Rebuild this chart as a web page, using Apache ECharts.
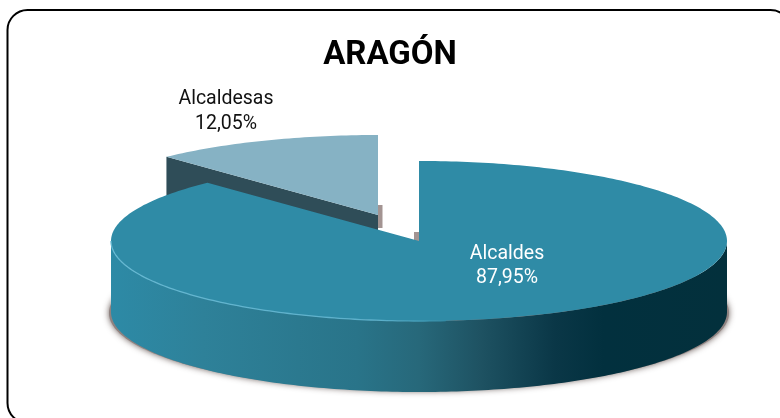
<!DOCTYPE html>
<html>
<head>
<meta charset="utf-8">
<style>
html, body { margin: 0; padding: 0; background: #fff; }
#main { width: 780px; height: 418px; }
</style>
<script src="https://cdn.jsdelivr.net/npm/echarts@6/dist/echarts.min.js"></script>
</head>
<body>
<div id="main"></div>
<script>
// datos
var titleText = 'ARAGÓN';
var categories = ['Alcaldesas', 'Alcaldes'];
var values = [12.05, 87.95];

// geometria del pastel
var centerX = 419, centerY = 241, radiusX = 308, radiusY = 80, depth = 71;
var offsets = [[-41, -26], [0, 0]];
var labelPos = [[226, 111.5], [507, 266]];
var labelColors = ['#111', '#fff'];
var topColors = ['#86b2c4', '#2f8ba6'];
var cutColor = '#2f4d58';
var fontName = 'Roboto, sans-serif';

var total = values[0] + values[1];
var chart = echarts.init(document.querySelector('#main'));

// punto del borde, angulo en grados desde arriba y en sentido horario
function rimPoint(cx, cy, deg, rx, ry) {
    var t = deg * Math.PI / 180;
    return [cx + (rx || radiusX) * Math.sin(t), cy - (ry || radiusY) * Math.cos(t)];
}
function arc(cx, cy, from, to, rx, ry) {
    var pts = [];
    var n = Math.ceil(Math.abs(to - from));
    for (var i = 0; i <= n; i++) {
        pts.push(rimPoint(cx, cy, from + (to - from) * i / n, rx, ry));
    }
    return pts;
}
function shifted(pts, dy) {
    return pts.map(function (p) { return [p[0], p[1] + dy]; }).reverse();
}

function renderSlice(params, api) {
    var i = params.dataIndex;
    var cx = centerX + offsets[i][0];
    var cy = centerY + offsets[i][1];
    var sweep = api.value(0) / total * 360;
    // Alcaldesas termina en la vertical, Alcaldes empieza ahi
    var from = i === 0 ? -sweep : 0;
    var to = i === 0 ? 0 : sweep;
    var children = [];

    if (i === 0) {
        var first = rimPoint(cx, cy, from);
        children.push({
            type: 'polygon',
            shape: { points: [first, [cx, cy], [cx, cy + depth], [first[0], first[1] + depth]] },
            style: { fill: cutColor }
        });
        children.push({
            type: 'rect',
            shape: { x: cx, y: cy - 10, width: 4.5, height: 23 },
            style: { fill: '#a39492' }
        });
    } else {
        // sombra bajo el pastel
        var shadowArc = arc(cx, cy + 72, 60, 300, radiusX + 2, radiusY - 2);
        children.push({
            type: 'polygon',
            shape: { points: shadowArc },
            style: { fill: '#8f8280', shadowBlur: 6, shadowColor: 'rgba(90,75,72,.9)' }
        });
        children.push({
            type: 'rect',
            shape: { x: cx - 5, y: cy - 9, width: 5, height: 9 },
            style: { fill: '#a39492' }
        });
        // pared frontal
        var front = arc(cx, cy, 90, 270);
        children.push({
            type: 'polygon',
            shape: { points: front.concat(shifted(front, depth)) },
            style: {
                fill: new echarts.graphic.LinearGradient(0, 0, 1, 0, [
                    { offset: 0, color: '#2d8aa6' },
                    { offset: 0.15, color: '#2e8199' },
                    { offset: 0.4, color: '#297489' },
                    { offset: 0.5, color: '#27687a' },
                    { offset: 0.6, color: '#1e5262' },
                    { offset: 0.72, color: '#0a3747' },
                    { offset: 0.8, color: '#02303e' },
                    { offset: 1, color: '#03303c' }
                ])
            }
        });
    }

    children.push({
        type: 'polygon',
        shape: { points: [[cx, cy]].concat(arc(cx, cy, from, to)) },
        style: { fill: topColors[i] }
    });

    if (i === 1) {
        // brillo del canto
        children.push({
            type: 'polyline',
            shape: { points: arc(cx, cy, 270, 175) },
            style: {
                fill: 'none',
                lineWidth: 1.3,
                stroke: new echarts.graphic.LinearGradient(0, 0, 1, 0, [
                    { offset: 0, color: '#66b8d2' },
                    { offset: 0.8, color: '#5cb0cb' },
                    { offset: 1, color: '#2f8ba6' }
                ])
            }
        });
    }

    children.push({
        type: 'text',
        style: {
            x: labelPos[i][0],
            y: labelPos[i][1],
            text: categories[i] + '\n' + api.value(0).toFixed(2).replace('.', ',') + '%',
            fill: labelColors[i],
            font: '19.5px ' + fontName,
            lineHeight: 24.5,
            align: 'center',
            verticalAlign: 'middle'
        }
    });
    return { type: 'group', children: children };
}

chart.setOption({
    animation: false,
    title: {
        text: titleText,
        left: 'center',
        top: 34,
        textStyle: { color: '#000', fontFamily: fontName, fontWeight: 'bold', fontSize: 33 }
    },
    // el marco sigue fuera de la imagen por la derecha y por abajo
    graphic: [{
        type: 'rect',
        z: -1,
        shape: { x: 7.5, y: 10, width: 783, height: 413, r: 20 },
        style: { fill: '#fff', stroke: '#000', lineWidth: 2 }
    }],
    series: [{
        type: 'custom',
        coordinateSystem: 'none',
        silent: true,
        renderItem: renderSlice,
        data: values.map(function (v) { return [v]; })
    }]
});
</script>
</body>
</html>
